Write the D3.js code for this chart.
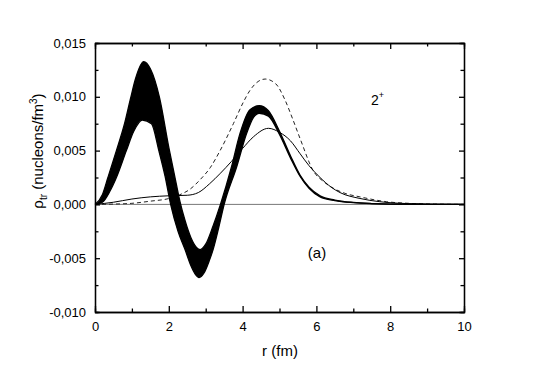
<!DOCTYPE html>
<meta charset="utf-8">
<style>
html, body { margin: 0; padding: 0; background: #fff; }
text { font-family: "Liberation Sans", Arial, sans-serif; fill: #000; }
</style>
<body>
<script src="https://d3js.org/d3.v7.min.js"></script>
<script>

var width = 540,
    height = 376;

// band (upper / lower edges)
var upperR = [0, 0.2, 0.35, 0.58, 0.8, 0.96, 1.1, 1.32, 1.5, 1.75, 2.0, 2.15, 2.3, 2.44, 2.6, 2.75, 2.85, 3.0, 3.2, 3.4, 3.7, 3.93, 4.2, 4.45, 4.7, 5.0, 5.3, 5.56, 5.8, 6.1, 6.5, 7.0, 7.5, 8.0, 9.0, 10];
var upperV = [0, 0.0009, 0.0025, 0.005, 0.0075, 0.0098, 0.0117, 0.01326, 0.0126, 0.0099, 0.0053, 0.0028, 0.0003, -0.0015, -0.0031, -0.004, -0.0042, -0.0037, -0.002, 0, 0.0035, 0.0066, 0.0088, 0.00917, 0.0087, 0.0068, 0.0045, 0.0027, 0.0016, 0.0008, 0.0004, 0.00018, 0.00008, 0.00003, 0.00001, 0];

var lowerR = [0, 0.2, 0.4, 0.58, 0.85, 1.05, 1.28, 1.53, 1.73, 1.9, 2.05, 2.25, 2.44, 2.6, 2.72, 2.82, 2.95, 3.1, 3.2, 3.35, 3.5, 3.84, 4.11, 4.3, 4.45, 4.7, 5.0, 5.3, 5.56, 5.8, 6.1, 6.5, 7.0, 7.5, 8.0, 9.0, 10];
var lowerV = [0, 0.0002, 0.0012, 0.0025, 0.005, 0.0068, 0.00784, 0.0075, 0.005, 0.0026, 0, -0.0025, -0.0042, -0.0057, -0.0065, -0.0068, -0.0064, -0.0052, -0.0042, -0.0022, 0, 0.0035, 0.0066, 0.0081, 0.00847, 0.0082, 0.0065, 0.0043, 0.0026, 0.0015, 0.0007, 0.00035, 0.00016, 0.00007, 0.00003, 0.00001, 0];

// thin solid curve
var thinR = [0, 0.5, 1.0, 1.5, 2.0, 2.5, 2.8, 3.1, 3.4, 3.7, 4.0, 4.3, 4.7, 5.0, 5.3, 5.56, 5.8, 6.1, 6.4, 6.64, 7.18, 7.72, 8.5, 9.2, 10];
var thinV = [0, 0.0002, 0.0005, 0.0007, 0.0008, 0.00085, 0.0011, 0.0019, 0.0029, 0.004, 0.0052, 0.0063, 0.00707, 0.0067, 0.0059, 0.0047, 0.0036, 0.0025, 0.0016, 0.0011, 0.00055, 0.00025, 0.00007, 0.00002, 0];

// dashed curve
var dashR = [0, 0.5, 1.0, 1.5, 2.03, 2.3, 2.57, 2.85, 3.12, 3.39, 3.75, 4.02, 4.2, 4.61, 4.9, 5.15, 5.35, 5.56, 5.92, 6.2, 6.46, 6.8, 7.18, 7.9, 8.5, 9.2, 10];
var dashV = [0, 0.00003, 0.0001, 0.0003, 0.00057, 0.0009, 0.0014, 0.0023, 0.0034, 0.005, 0.0075, 0.0095, 0.0106, 0.01165, 0.0112, 0.0097, 0.008, 0.0061, 0.0031, 0.0021, 0.0015, 0.001, 0.0007, 0.00025, 0.0001, 0.00003, 0];

var xTicks = [0, 2, 4, 6, 8, 10];
var yTicks = [-0.010, -0.005, 0.000, 0.005, 0.010, 0.015];
var xMinor = [1, 3, 5, 7, 9];
var yMinor = [-0.0075, -0.0025, 0.0025, 0.0075, 0.0125];

var pL = 95, pR = 464, pT = 43, pB = 312;

var x = d3.scaleLinear().domain([0, 10]).range([pL, pR]);
var y = d3.scaleLinear().domain([-0.010, 0.015]).range([pB, pT]);

var svg = d3.select("body").append("svg")
    .attr("width", width)
    .attr("height", height);

function pts(rs, vs) { return rs.map(function(r, i) { return [r, vs[i]]; }); }

var line = d3.line()
    .x(function(d) { return x(d[0]); })
    .y(function(d) { return y(d[1]); })
    .curve(d3.curveMonotoneX);

// zero line
svg.append("line")
    .attr("x1", x(0)).attr("x2", x(10))
    .attr("y1", y(0)).attr("y2", y(0))
    .attr("stroke", "#555")
    .attr("stroke-width", 0.8);

// dashed
svg.append("path")
    .datum(pts(dashR, dashV))
    .attr("fill", "none")
    .attr("stroke", "#222")
    .attr("stroke-width", 1)
    .attr("stroke-dasharray", "4,3")
    .attr("d", line);

// thin solid
svg.append("path")
    .datum(pts(thinR, thinV))
    .attr("fill", "none")
    .attr("stroke", "#000")
    .attr("stroke-width", 1)
    .attr("d", line);

// band: fill between upper and lower edges
var up = pts(upperR, upperV), lo = pts(lowerR, lowerV);
var loPath = line(lo);
svg.append("clipPath").attr("id", "plotclip")
  .append("rect").attr("x", pL).attr("y", pT).attr("width", pR - pL).attr("height", pB - pT);

// polygon sampled from both monotone edges
var upNode = svg.append("path").datum(up).attr("fill", "none").attr("stroke", "#000").attr("stroke-width", 1.3).attr("d", line).node();
var loNode = svg.append("path").datum(lo).attr("fill", "none").attr("stroke", "#000").attr("stroke-width", 1.3).attr("d", line).node();

function sample(node) {
  var L = node.getTotalLength(), out = [];
  for (var s = 0; s <= L; s += 0.5) {
    var p = node.getPointAtLength(s);
    out.push([p.x, p.y]);
  }
  return out;
}
var poly = sample(upNode).concat(sample(loNode).reverse());
svg.append("path")
    .attr("fill", "#000")
    .attr("d", "M" + poly.join("L") + "Z");

// axes
var fmt = function(d) { return d3.format(".3f")(d).replace(".", ",").replace("\u2212", "-"); };

function styleAxis(g) {
  g.selectAll("path, line").attr("stroke", "#000").attr("stroke-width", 1.3);
  g.selectAll("text").style("font-size", "13px").attr("fill", "#000")
    .style("font-family", "'Liberation Sans', Arial, sans-serif");
}

svg.append("g").attr("transform", "translate(" + pL + ",0)")
  .call(d3.axisLeft(y).tickValues(yTicks).tickSizeInner(-5).tickSizeOuter(0).tickPadding(9).tickFormat(fmt)).call(styleAxis);
svg.append("g").attr("transform", "translate(" + pR + ",0)")
  .call(d3.axisRight(y).tickValues(yTicks).tickSizeInner(-5).tickSizeOuter(0).tickFormat("")).call(styleAxis);
svg.append("g").attr("transform", "translate(0," + pB + ")")
  .call(d3.axisBottom(x).tickValues(xTicks).tickSizeInner(-6).tickSizeOuter(0).tickPadding(10)).call(styleAxis);
svg.append("g").attr("transform", "translate(0," + pT + ")")
  .call(d3.axisTop(x).tickValues(xTicks).tickSizeInner(-6).tickSizeOuter(0).tickFormat("")).call(styleAxis);

svg.append("g").attr("transform", "translate(" + pL + ",0)")
  .call(d3.axisLeft(y).tickValues(yMinor).tickSize(-3.5).tickFormat("")).call(styleAxis);
svg.append("g").attr("transform", "translate(" + pR + ",0)")
  .call(d3.axisRight(y).tickValues(yMinor).tickSize(-3.5).tickFormat("")).call(styleAxis);
svg.append("g").attr("transform", "translate(0," + pB + ")")
  .call(d3.axisBottom(x).tickValues(xMinor).tickSize(-3.5).tickFormat("")).call(styleAxis);
svg.append("g").attr("transform", "translate(0," + pT + ")")
  .call(d3.axisTop(x).tickValues(xMinor).tickSize(-3.5).tickFormat("")).call(styleAxis);

// titles
svg.append("text")
    .attr("x", 280).attr("y", 356)
    .attr("text-anchor", "middle")
    .style("font-size", "15px")
    .text("r (fm)");

var yt = svg.append("text")
    .attr("transform", "translate(43,151) rotate(-90)")
    .attr("text-anchor", "middle")
    .style("font-size", "15px");
yt.append("tspan").text("\u03c1");
yt.append("tspan").attr("dy", 4).style("font-size", "10px").text("tr");
yt.append("tspan").attr("dy", -4).text(" (nucleons/fm");
yt.append("tspan").attr("dy", -6).style("font-size", "10px").text("3");
yt.append("tspan").attr("dy", 6).text(")");

var lab = svg.append("text")
    .attr("x", 371).attr("y", 105)
    .style("font-size", "14px");
lab.append("tspan").text("2");
lab.append("tspan").attr("dy", -7).style("font-size", "9px").text("+");

svg.append("text")
    .attr("x", 317).attr("y", 258)
    .attr("text-anchor", "middle")
    .style("font-size", "15px")
    .text("(a)");

</script>
</body>
